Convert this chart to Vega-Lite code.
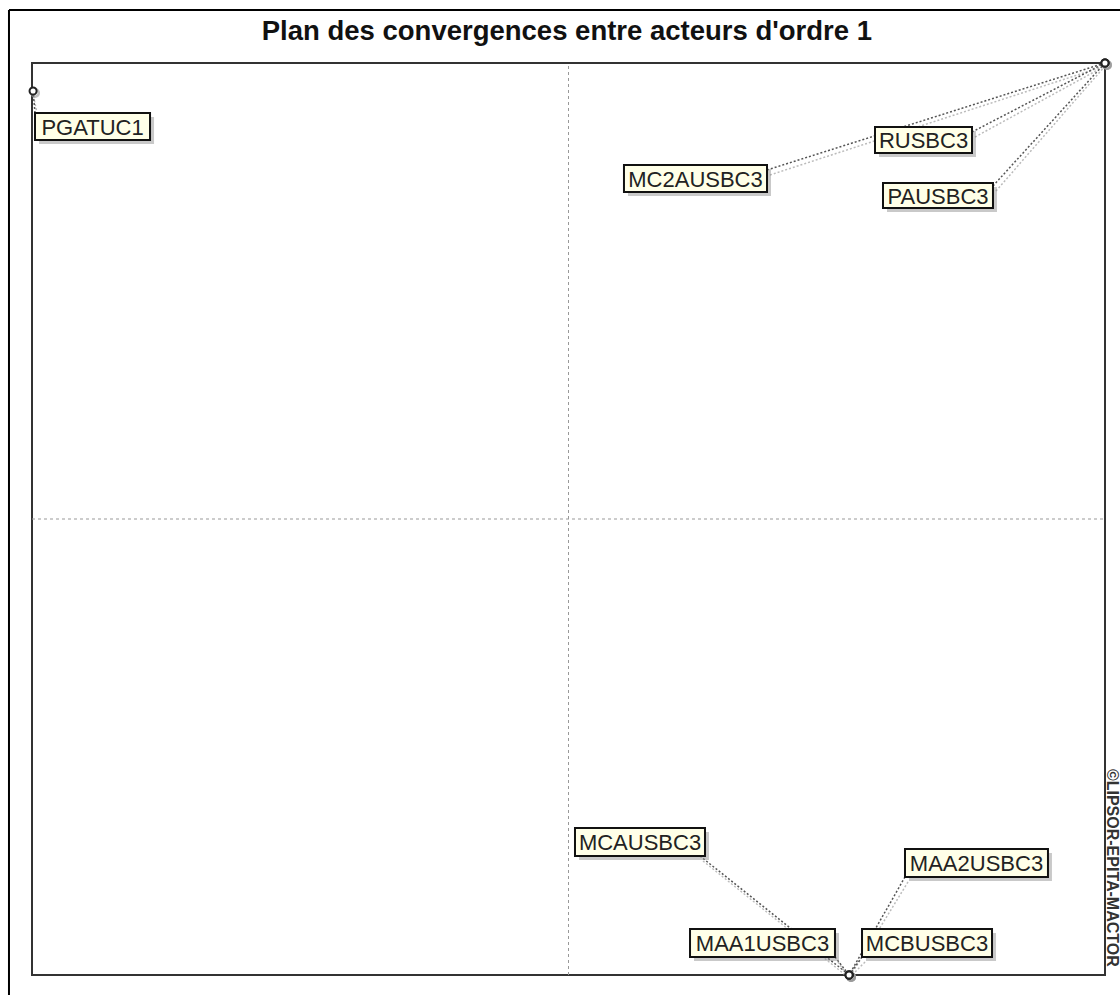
{
  "$schema": "https://vega.github.io/schema/vega-lite/v6.json",
  "autosize": "none",
  "width": 1073,
  "height": 912,
  "padding": {"left": 32, "top": 63, "right": 15, "bottom": 20},
  "background": "white",
  "config": {
    "view": {"stroke": "#333333", "strokeWidth": 2}
  },
  "datasets": {
    "actors": [
      {"actor": "PGATUC1", "x": -0.998, "y": 0.9386},
      {"actor": "RUSBC3", "x": 1.0, "y": 1.0},
      {"actor": "MC2AUSBC3", "x": 1.0, "y": 1.0},
      {"actor": "PAUSBC3", "x": 1.0, "y": 1.0},
      {"actor": "MCAUSBC3", "x": 0.523, "y": -1.0},
      {"actor": "MAA2USBC3", "x": 0.523, "y": -1.0},
      {"actor": "MAA1USBC3", "x": 0.523, "y": -1.0},
      {"actor": "MCBUSBC3", "x": 0.523, "y": -1.0}
    ],
    "labels": [
      {"actor": "PGATUC1", "lx": -0.8872, "ly": 0.8607, "x1": -0.9944, "x2": -0.78, "y1": 0.8904, "y2": 0.8311},
      {"actor": "RUSBC3", "lx": 0.6617, "ly": 0.8311, "x1": 0.5713, "x2": 0.7521, "y1": 0.8596, "y2": 0.8026},
      {"actor": "MC2AUSBC3", "lx": 0.2367, "ly": 0.7467, "x1": 0.1034, "x2": 0.37, "y1": 0.7763, "y2": 0.7171},
      {"actor": "PAUSBC3", "lx": 0.6887, "ly": 0.7094, "x1": 0.5862, "x2": 0.7912, "y1": 0.7368, "y2": 0.682},
      {"actor": "MCAUSBC3", "lx": 0.1333, "ly": -0.7083, "x1": 0.0121, "x2": 0.2544, "y1": -0.6776, "y2": -0.739},
      {"actor": "MAA2USBC3", "lx": 0.7605, "ly": -0.7544, "x1": 0.6272, "x2": 0.8937, "y1": -0.7237, "y2": -0.7851},
      {"actor": "MAA1USBC3", "lx": 0.3616, "ly": -0.9298, "x1": 0.2265, "x2": 0.4967, "y1": -0.8991, "y2": -0.9605},
      {"actor": "MCBUSBC3", "lx": 0.6682, "ly": -0.9298, "x1": 0.5471, "x2": 0.7894, "y1": -0.8991, "y2": -0.9605}
    ],
    "links": [
      {"actor": "PGATUC1", "ax": -0.9944, "ay": 0.8904, "px": -0.998, "py": 0.9386},
      {"actor": "MC2AUSBC3", "ax": 0.37, "ay": 0.7654, "px": 1.0, "py": 1.0},
      {"actor": "RUSBC3", "ax": 0.7521, "ay": 0.8487, "px": 1.0, "py": 1.0},
      {"actor": "PAUSBC3", "ax": 0.7912, "ay": 0.7303, "px": 1.0, "py": 1.0},
      {"actor": "MCAUSBC3", "ax": 0.2451, "ay": -0.739, "px": 0.523, "py": -1.0},
      {"actor": "MAA1USBC3", "ax": 0.4967, "ay": -0.9605, "px": 0.523, "py": -1.0},
      {"actor": "MCBUSBC3", "ax": 0.5471, "ay": -0.9605, "px": 0.523, "py": -1.0},
      {"actor": "MAA2USBC3", "ax": 0.6272, "ay": -0.7851, "px": 0.523, "py": -1.0}
    ]
  },
  "layer": [
    {
      "data": {"values": [{}]},
      "mark": {"type": "rule", "color": "#999999", "strokeWidth": 1, "strokeDash": [3, 3]},
      "encoding": {
        "x": {"datum": 0, "type": "quantitative", "scale": {"domain": [-1, 1], "nice": false, "zero": false}, "axis": null},
        "y": {"datum": -1, "type": "quantitative", "scale": {"domain": [-1, 1], "nice": false, "zero": false}, "axis": null},
        "y2": {"datum": 1}
      }
    },
    {
      "data": {"values": [{}]},
      "mark": {"type": "rule", "color": "#999999", "strokeWidth": 1, "strokeDash": [3, 3]},
      "encoding": {
        "y": {"datum": 0, "type": "quantitative"},
        "x": {"datum": -1, "type": "quantitative"},
        "x2": {"datum": 1}
      }
    },
    {
      "data": {"values": [{}]},
      "mark": {"type": "rule", "color": "#000000", "strokeWidth": 2},
      "encoding": {
        "x": {"datum": -1.0429, "type": "quantitative"},
        "y": {"datum": 1.1162, "type": "quantitative"},
        "y2": {"datum": -1.05}
      }
    },
    {
      "data": {"values": [{}]},
      "mark": {"type": "rule", "color": "#000000", "strokeWidth": 2},
      "encoding": {
        "y": {"datum": 1.1162, "type": "quantitative"},
        "x": {"datum": -1.0429, "type": "quantitative"},
        "x2": {"datum": 1.03}
      }
    },
    {
      "data": {"values": [{}]},
      "mark": {"type": "text", "font": "Liberation Sans", "fontSize": 27.5, "fontWeight": "bold", "color": "#111111", "align": "center", "baseline": "alphabetic"},
      "encoding": {
        "x": {"datum": -0.003, "type": "quantitative"},
        "y": {"datum": 1.0504, "type": "quantitative"},
        "text": {"value": "Plan des convergences entre acteurs d'ordre 1"}
      }
    },
    {
      "data": {"name": "links"},
      "mark": {"type": "rule", "color": "#bbbbbb", "strokeWidth": 1.5, "strokeDash": [2, 2], "yOffset": 5, "y2Offset": 3, "xOffset": 3},
      "encoding": {
        "x": {"field": "ax", "type": "quantitative"},
        "y": {"field": "ay", "type": "quantitative"},
        "x2": {"field": "px"},
        "y2": {"field": "py"}
      }
    },
    {
      "data": {"name": "links"},
      "mark": {"type": "rule", "color": "#555555", "strokeWidth": 1.5, "strokeDash": [2, 2]},
      "encoding": {
        "x": {"field": "ax", "type": "quantitative"},
        "y": {"field": "ay", "type": "quantitative"},
        "x2": {"field": "px"},
        "y2": {"field": "py"}
      }
    },
    {
      "data": {"name": "actors"},
      "mark": {"type": "point", "shape": "circle", "size": 55, "filled": false, "stroke": "#999999", "strokeWidth": 2.5, "opacity": 0.6, "xOffset": 2, "yOffset": 2},
      "encoding": {
        "x": {"field": "x", "type": "quantitative"},
        "y": {"field": "y", "type": "quantitative"}
      }
    },
    {
      "data": {"name": "actors"},
      "mark": {"type": "point", "shape": "circle", "size": 50, "filled": true, "fill": "white", "stroke": "#222222", "strokeWidth": 2, "opacity": 1},
      "encoding": {
        "x": {"field": "x", "type": "quantitative"},
        "y": {"field": "y", "type": "quantitative"}
      }
    },
    {
      "data": {"name": "labels"},
      "mark": {"type": "rect", "fill": "#888888", "opacity": 0.45, "xOffset": 4, "x2Offset": 4, "yOffset": 4, "y2Offset": 4},
      "encoding": {
        "x": {"field": "x1", "type": "quantitative"},
        "x2": {"field": "x2"},
        "y": {"field": "y1", "type": "quantitative"},
        "y2": {"field": "y2"}
      }
    },
    {
      "data": {"name": "labels"},
      "mark": {"type": "rect", "fill": "#ffffe8", "stroke": "#111111", "strokeWidth": 2},
      "encoding": {
        "x": {"field": "x1", "type": "quantitative"},
        "x2": {"field": "x2"},
        "y": {"field": "y1", "type": "quantitative"},
        "y2": {"field": "y2"}
      }
    },
    {
      "data": {"name": "labels"},
      "mark": {"type": "text", "font": "Liberation Sans", "fontSize": 22, "color": "#222222", "align": "center", "baseline": "middle", "dy": 1},
      "encoding": {
        "x": {"field": "lx", "type": "quantitative"},
        "y": {"field": "ly", "type": "quantitative"},
        "text": {"field": "actor"}
      }
    },
    {
      "data": {"values": [{}]},
      "mark": {"type": "text", "font": "Liberation Sans", "fontSize": 16, "fontWeight": "bold", "color": "#333333", "angle": 90, "align": "center", "baseline": "middle"},
      "encoding": {
        "x": {"datum": 1.0135, "type": "quantitative"},
        "y": {"datum": -0.765, "type": "quantitative"},
        "text": {"value": "©LIPSOR-EPITA-MACTOR"}
      }
    }
  ]
}
